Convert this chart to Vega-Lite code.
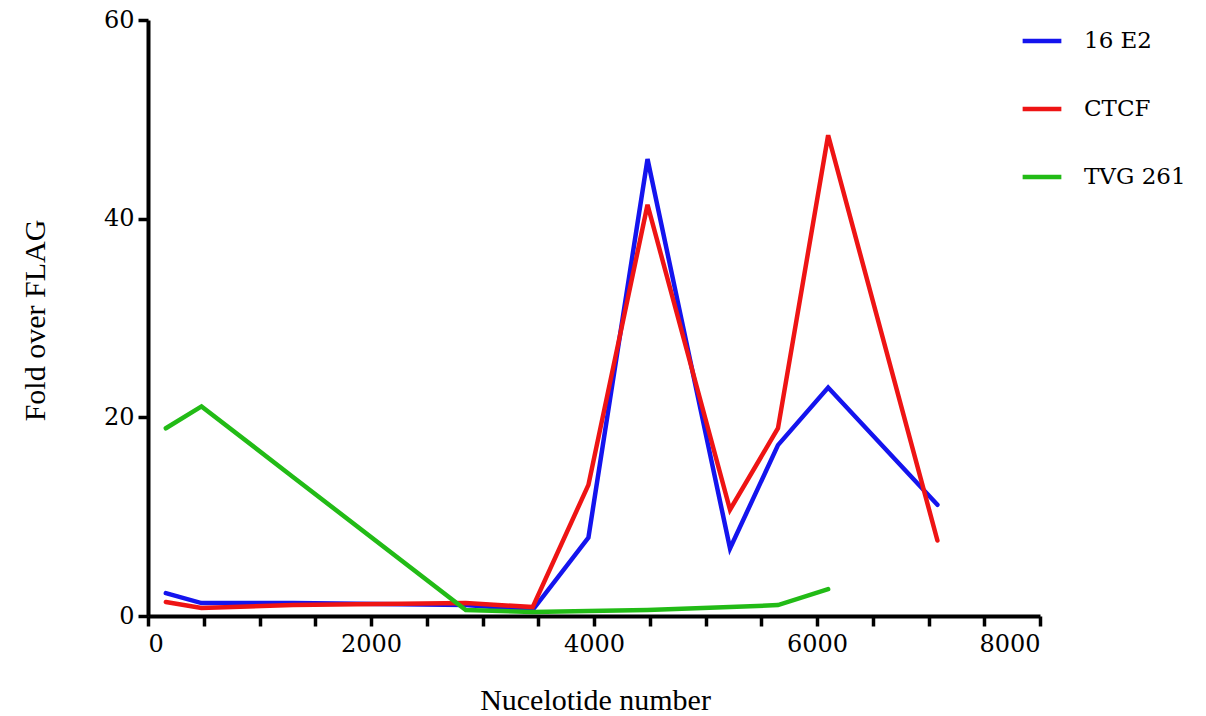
{
  "$schema": "https://vega.github.io/schema/vega-lite/v6.json",
  "autosize": "none",
  "width": 892,
  "height": 596,
  "padding": {"left": 148, "top": 20, "right": 166, "bottom": 100},
  "background": "white",
  "config": {
    "view": {"stroke": null},
    "font": "DejaVu Serif"
  },
  "data": {
    "values": [
      {"nt": 160, "fold": 2.3, "series": "16 E2"},
      {"nt": 480, "fold": 1.3, "series": "16 E2"},
      {"nt": 1300, "fold": 1.3, "series": "16 E2"},
      {"nt": 2850, "fold": 1.1, "series": "16 E2"},
      {"nt": 3450, "fold": 0.6, "series": "16 E2"},
      {"nt": 3950, "fold": 7.9, "series": "16 E2"},
      {"nt": 4480, "fold": 46.0, "series": "16 E2"},
      {"nt": 5220, "fold": 6.8, "series": "16 E2"},
      {"nt": 5650, "fold": 17.2, "series": "16 E2"},
      {"nt": 6100, "fold": 23.0, "series": "16 E2"},
      {"nt": 7080, "fold": 11.2, "series": "16 E2"},
      {"nt": 160, "fold": 1.4, "series": "CTCF"},
      {"nt": 480, "fold": 0.8, "series": "CTCF"},
      {"nt": 1300, "fold": 1.1, "series": "CTCF"},
      {"nt": 2850, "fold": 1.3, "series": "CTCF"},
      {"nt": 3450, "fold": 0.9, "series": "CTCF"},
      {"nt": 3950, "fold": 13.2, "series": "CTCF"},
      {"nt": 4480, "fold": 41.4, "series": "CTCF"},
      {"nt": 5220, "fold": 10.7, "series": "CTCF"},
      {"nt": 5650, "fold": 18.9, "series": "CTCF"},
      {"nt": 6100, "fold": 48.4, "series": "CTCF"},
      {"nt": 7080, "fold": 7.6, "series": "CTCF"},
      {"nt": 160, "fold": 18.9, "series": "TVG 261"},
      {"nt": 480, "fold": 21.1, "series": "TVG 261"},
      {"nt": 1300, "fold": 14.0, "series": "TVG 261"},
      {"nt": 2850, "fold": 0.6, "series": "TVG 261"},
      {"nt": 3450, "fold": 0.4, "series": "TVG 261"},
      {"nt": 3950, "fold": 0.5, "series": "TVG 261"},
      {"nt": 4480, "fold": 0.6, "series": "TVG 261"},
      {"nt": 5220, "fold": 0.9, "series": "TVG 261"},
      {"nt": 5650, "fold": 1.1, "series": "TVG 261"},
      {"nt": 6100, "fold": 2.7, "series": "TVG 261"}
    ]
  },
  "mark": {"type": "line", "strokeWidth": 4.5, "strokeCap": "round", "strokeJoin": "miter"},
  "encoding": {
    "x": {
      "field": "nt",
      "type": "quantitative",
      "scale": {"domain": [0, 8000], "nice": false, "zero": false},
      "axis": {
        "title": "Nucelotide number",
        "values": [0, 500, 1000, 1500, 2000, 2500, 3000, 3500, 4000, 4500, 5000, 5500, 6000, 6500, 7000, 7500, 8000],
        "labelExpr": "datum.value % 2000 === 0 ? datum.label : ''",
        "format": "d",
        "grid": false,
        "domainColor": "black",
        "domainWidth": 4,
        "tickColor": "black",
        "tickWidth": 3.5,
        "tickSize": 10,
        "labelFont": "DejaVu Serif",
        "labelFontSize": 24,
        "labelColor": "black",
        "labelPadding": 6,
        "titleFont": "Liberation Serif",
        "titleFontSize": 30,
        "titleFontWeight": "normal",
        "titleColor": "black",
        "titleY": 93,
        "titleX": 447,
        "titleBaseline": "alphabetic"
      }
    },
    "y": {
      "field": "fold",
      "type": "quantitative",
      "scale": {"domain": [0, 60], "nice": false},
      "axis": {
        "title": "Fold over FLAG",
        "values": [0, 20, 40, 60],
        "grid": false,
        "domainColor": "black",
        "domainWidth": 4,
        "tickColor": "black",
        "tickWidth": 3.5,
        "tickSize": 10,
        "labelFont": "DejaVu Serif",
        "labelFontSize": 24,
        "labelColor": "black",
        "labelPadding": 4,
        "titleFont": "Liberation Serif",
        "titleFontSize": 30,
        "titleFontWeight": "normal",
        "titleColor": "black",
        "titleX": -113,
        "titleY": 300,
        "titleAngle": -90,
        "titleBaseline": "middle",
        "titleAlign": "center"
      }
    },
    "color": {
      "field": "series",
      "type": "nominal",
      "scale": {"domain": ["16 E2", "CTCF", "TVG 261"], "range": ["#1414ee", "#ee1414", "#22bb16"]},
      "legend": {
        "title": null,
        "orient": "none",
        "legendX": 872,
        "legendY": -1,
        "symbolType": "stroke",
        "symbolSize": 1500,
        "symbolStrokeWidth": 4.5,
        "labelFont": "DejaVu Serif",
        "labelFontSize": 23,
        "labelColor": "black",
        "labelOffset": 20,
        "rowPadding": 34
      }
    }
  }
}
